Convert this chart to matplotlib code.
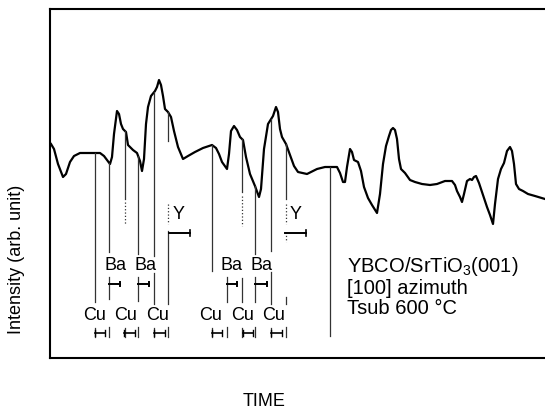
import numpy as np
import matplotlib.pyplot as plt

plt.rcParams['font.family'] = ['Liberation Sans', 'DejaVu Sans']
plt.rcParams['mathtext.fontset'] = 'custom'
plt.rcParams['mathtext.rm'] = 'Liberation Sans'

# RHEED intensity trace (time, arb. units)
time = [1, 4, 8, 13, 16, 20, 24, 30, 40, 50, 54, 57, 60, 62, 64, 67, 69, 71, 73, 76,
        78, 83, 87, 90, 92, 94, 96, 98, 101, 105, 107, 109, 111, 113, 115, 118, 121, 124, 128, 133,
        138, 145, 153, 162, 166, 169, 172, 177, 179, 181, 184, 187, 190, 193, 196, 200, 205, 209, 211, 214,
        218, 223, 226, 228, 230, 232, 236, 240, 244, 248, 257, 267, 275, 287, 290, 293, 295, 297, 300, 302,
        304, 308, 311, 314, 318, 322, 327, 330, 333, 336, 339, 341, 343, 345, 347, 349, 351, 355, 360, 365,
        372, 380, 387, 395, 402, 405, 407, 410, 412, 414, 417, 420, 422, 424, 426, 429, 433, 437, 440, 443,
        445, 448, 451, 454, 457, 460, 462, 464, 466, 469, 473, 478, 485, 495]
intensity = [214, 209, 194, 181, 184, 196, 202, 205, 205, 205, 202, 198, 194, 201, 224, 247, 244, 234, 229, 226,
             213, 208, 205, 197, 187, 199, 234, 251, 262, 267, 271, 278, 273, 262, 249, 246, 241, 227, 211, 199,
             202, 206, 210, 213, 210, 204, 196, 189, 204, 227, 232, 228, 221, 218, 201, 184, 172, 161, 169, 209,
             234, 242, 251, 246, 229, 221, 214, 203, 192, 186, 184, 189, 191, 191, 185, 176, 176, 191, 209, 206,
             198, 196, 187, 171, 160, 153, 145, 164, 194, 212, 222, 228, 230, 228, 219, 199, 189, 185, 178, 176,
             174, 173, 174, 177, 177, 173, 167, 161, 156, 164, 177, 179, 178, 181, 182, 175, 163, 151, 143, 134,
             154, 179, 189, 195, 207, 211, 207, 194, 174, 169, 167, 164, 162, 159]

# shutter marker lines: time and the pieces drawn (top=None -> start at the trace)
marker_lines = [
    (45, [(None, 56, '-'), (30, 21, '-')]),
    (59, [(None, 106, '-'), (81, 59, '-'), (31, 21, '-')]),
    (75, [(None, 159, '-'), (156, 134, ':'), (30, 21, '-')]),
    (88, [(None, 104, '-'), (81, 57, '-'), (31, 21, '-')]),
    (104, [(None, 102, '-'), (85, 54, '-'), (30, 21, '-')]),
    (118, [(None, 217, '-'), (154, 134, ':'), (127, 54, '-'), (31, 21, '-')]),
    (162, [(None, 87, '-'), (30, 21, '-')]),
    (177, [(81, 56, '-'), (31, 21, '-')]),
    (192, [(None, 166, '-'), (162, 132, ':'), (80, 56, '-'), (30, 21, '-')]),
    (205, [(None, 104, '-'), (81, 56, '-'), (31, 21, '-')]),
    (221, [(None, 107, '-'), (86, 54, '-'), (30, 21, '-')]),
    (236, [(None, 159, '-'), (154, 134, ':'), (126, 116, ':'), (61, 54, '-'), (31, 21, '-')]),
    (280, [(None, 22, '-')]),
]

cu_spans = [(45, 55), (74, 85), (104, 115), (162, 172), (193, 203), (221, 232)]
cu_label_t = [45, 76, 108, 161, 193, 224]
ba_spans = [(59, 70), (88, 99), (177, 187), (205, 217)]
ba_label_t = [65, 95, 182, 212]
y_spans = [(119, 140), (235, 256)]
y_label_t = [129, 246]

fig = plt.figure(figsize=(5.45, 4.14), dpi=100)
ax = fig.add_axes([50/545, 55/414, 495/545, 349/414])

ax.plot(time, intensity, color='black', lw=1.6)

lc = '#333333'
for t, pieces in marker_lines:
    for top, bot, ls in pieces:
        if top is None:
            top = np.interp(t, time, intensity)
        ax.plot([t, t], [top, bot], color=lc, lw=0.9, ls=ls)

# Cu brackets |-|
for a, b in cu_spans:
    ax.plot([a, b], [25, 25], color='black', lw=1.2)
    ax.plot([a, a], [22, 28], color='black', lw=1.0)
    ax.plot([b, b], [22, 28], color='black', lw=1.0)
# Ba brackets |--
for a, b in ba_spans:
    ax.plot([a, b], [74, 74], color='black', lw=1.4)
    ax.plot([b, b], [72, 76], color='black', lw=1.4)
# Y brackets |---|
for a, b in y_spans:
    ax.plot([a, b], [125, 125], color='black', lw=1.4)
    ax.plot([b, b], [122, 128], color='black', lw=1.2)

for t in cu_label_t:
    ax.text(t, 43, 'Cu', ha='center', va='center', fontsize=13)
for t in ba_label_t:
    ax.text(t, 94, 'Ba', ha='center', va='center', fontsize=13)
for t in y_label_t:
    ax.text(t, 144, 'Y', ha='center', va='center', fontsize=13)

ax.text(297, 93, r'YBCO/SrTiO$_\mathregular{3}$(001)', ha='left', va='center', fontsize=14.5)
ax.text(297, 71, '[100] azimuth', ha='left', va='center', fontsize=14.5)
ax.text(297, 50, 'Tsub 600 °C', ha='left', va='center', fontsize=14.5)

ax.set_xlim(0, 495)
ax.set_ylim(0, 349)
ax.set_xticks([])
ax.set_yticks([])
ax.spines['right'].set_visible(False)
for s in ['left', 'top', 'bottom']:
    ax.spines[s].set_linewidth(1.5)

fig.text(17/545, 1 - 259/414, 'Intensity (arb. unit)', rotation=90, ha='center', va='center', fontsize=13)
fig.text(264/545, 1 - 402/414, 'TIME', ha='center', va='center', fontsize=13)

plt.savefig('out.png', dpi=100)
